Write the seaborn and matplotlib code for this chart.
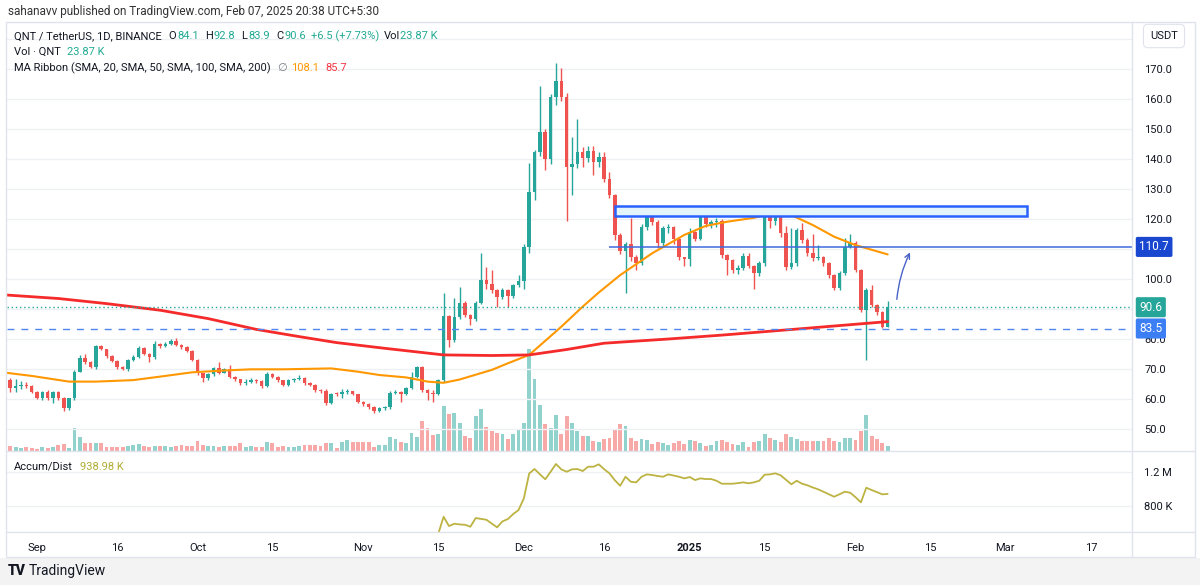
import matplotlib
matplotlib.use("Agg")
import matplotlib.pyplot as plt
import matplotlib.dates as mdates
from matplotlib.patches import Rectangle
from matplotlib.lines import Line2D
import pandas as pd
import seaborn as sns

# Candles QNT/USDT diarios (abertura = fechamento anterior)
FIRST_DAY = "2024-08-27"
FIRST_OPEN = 66.3

closes = [
    63.6, 64.2, 64.7, 64.3, 62.4, 60.4, 62.4, 60.2, 62.4, 60.2, 56.9, 60.2,
    69.1, 73.6, 72.4, 70.8, 77.7, 76.6, 74.3, 72.8, 70.6, 69.9, 73.0, 73.9,
    76.9, 75.0, 73.9, 78.3, 77.7, 78.2, 79.3, 78.0, 77.2, 76.1, 73.0, 68.6,
    66.9, 68.3, 70.2, 68.8, 69.9, 67.4, 66.6, 65.2, 65.8, 66.2, 65.9, 64.3,
    68.3, 67.4, 66.3, 64.7, 66.3, 66.6, 67.1, 65.2, 64.7, 63.0, 62.6, 58.8,
    61.7, 61.6, 62.4, 62.6, 61.6, 59.1, 58.3, 57.4, 56.1, 56.9, 57.2, 62.1,
    62.4, 61.8, 63.6, 67.4, 70.6, 63.0, 62.1, 61.8, 66.3, 87.7, 79.7, 87.4,
    91.9, 88.0, 86.6, 92.1, 99.7, 98.3, 96.3, 93.9, 96.3, 94.3, 97.9, 99.4,
    110.8, 129.1, 142.4, 149.1, 139.9, 160.6, 166.1, 160.8, 137.4, 138.3, 142.4, 140.2,
    142.7, 139.1, 140.8, 133.5, 128.0, 114.7, 109.4, 111.7, 107.4, 105.2, 117.2, 121.3,
    119.1, 111.9, 116.9, 117.2, 113.2, 107.4, 106.7, 115.8, 113.5, 121.0, 118.5, 118.9,
    119.2, 108.0, 106.3, 103.0, 103.8, 107.8, 104.4, 101.9, 105.2, 121.1, 119.3, 121.6,
    115.2, 104.1, 105.2, 116.3, 113.0, 108.6, 106.9, 107.4, 105.2, 101.3, 97.1, 101.9,
    110.8, 111.9, 103.0, 89.7, 96.3, 91.3, 88.9, 84.1, 90.6,
]

highs = [
    66.9, 66.6, 66.0, 65.6, 64.6, 62.6, 62.8, 63.0, 62.8, 62.6, 60.6, 60.4,
    69.6, 74.6, 75.0, 72.8, 78.0, 78.0, 76.8, 74.6, 73.0, 71.0, 73.4, 74.8,
    77.6, 77.4, 75.2, 79.4, 78.8, 79.0, 80.0, 80.2, 78.4, 77.6, 76.4, 73.4,
    68.8, 68.8, 70.6, 72.4, 70.4, 71.3, 67.6, 66.8, 66.6, 67.0, 66.8, 66.2,
    69.0, 68.8, 67.6, 66.4, 66.6, 67.0, 68.0, 67.4, 65.6, 65.0, 63.4, 63.2,
    62.0, 62.4, 63.2, 63.2, 62.8, 61.8, 59.4, 58.6, 57.6, 57.4, 57.8, 62.6,
    63.0, 62.8, 64.0, 69.1, 71.0, 71.0, 63.4, 63.0, 66.8, 95.2, 87.9, 93.6,
    97.4, 92.6, 88.2, 92.6, 108.8, 104.1, 103.0, 96.6, 97.0, 96.6, 98.4, 101.3,
    111.6, 138.8, 143.0, 164.3, 150.0, 161.6, 171.9, 170.2, 162.0, 147.4, 153.2, 144.0,
    144.5, 144.3, 142.5, 142.4, 135.8, 128.5, 115.2, 112.5, 120.2, 108.0, 118.5, 123.0,
    124.1, 119.6, 117.6, 118.2, 117.6, 114.0, 107.5, 117.0, 116.0, 122.8, 121.5, 119.8,
    120.5, 120.0, 108.4, 106.6, 104.6, 108.6, 108.6, 104.8, 106.0, 122.0, 124.1, 124.1,
    122.0, 117.8, 117.1, 117.0, 118.6, 113.6, 114.9, 111.3, 107.8, 105.6, 101.8, 102.6,
    113.8, 114.9, 112.6, 103.4, 97.0, 98.0, 91.6, 89.4, 92.8,
]

lows = [
    62.4, 62.4, 63.5, 63.6, 62.0, 60.0, 59.8, 59.6, 58.6, 59.8, 56.0, 56.4,
    59.8, 69.0, 71.8, 70.2, 70.0, 76.2, 73.8, 72.2, 70.0, 69.6, 69.4, 72.8,
    73.6, 74.6, 72.4, 73.4, 77.0, 77.4, 78.0, 77.6, 76.8, 75.6, 72.6, 68.0,
    65.8, 66.4, 67.8, 68.4, 68.6, 67.0, 66.0, 64.6, 64.8, 65.4, 65.4, 63.8,
    64.0, 67.0, 65.8, 64.2, 64.4, 65.8, 66.2, 64.8, 64.2, 62.2, 62.0, 58.0,
    58.4, 61.0, 60.4, 61.8, 61.2, 58.6, 57.6, 56.8, 55.4, 55.8, 56.4, 56.8,
    61.6, 59.1, 61.4, 63.2, 67.0, 62.4, 59.8, 59.1, 61.2, 65.8, 77.4, 79.0,
    86.8, 87.2, 84.6, 86.0, 91.6, 96.6, 95.2, 90.8, 93.2, 90.8, 93.8, 97.4,
    96.6, 108.6, 126.3, 141.0, 136.3, 138.3, 158.0, 159.2, 119.4, 128.0, 137.0, 137.4,
    139.0, 134.7, 137.5, 132.5, 127.0, 113.0, 108.5, 95.2, 106.0, 103.0, 104.6, 116.5,
    118.0, 110.5, 111.0, 115.5, 111.8, 106.5, 104.2, 104.5, 112.6, 113.0, 117.4, 117.0,
    117.2, 107.0, 101.3, 102.0, 101.6, 103.0, 103.6, 96.7, 101.0, 104.5, 117.0, 118.0,
    114.0, 103.0, 103.5, 104.2, 112.0, 107.6, 106.0, 106.5, 104.4, 100.5, 96.3, 96.5,
    101.4, 110.5, 102.5, 89.1, 73.0, 90.6, 88.0, 83.8, 83.9,
]

# Volume em milhares de QNT
volumes_k = [
    22, 18, 14, 18, 14, 9, 18, 14, 18, 27, 32, 14,
    104, 63, 36, 36, 36, 36, 18, 18, 18, 18, 22, 27,
    32, 22, 18, 22, 22, 22, 18, 22, 27, 22, 22, 45,
    27, 22, 22, 18, 22, 22, 22, 36, 18, 22, 18, 18,
    40, 36, 18, 22, 18, 18, 22, 27, 27, 27, 22, 36,
    36, 14, 40, 50, 40, 40, 40, 40, 18, 27, 27, 63,
    54, 40, 36, 81, 63, 135, 104, 72, 77, 203, 167, 171,
    126, 68, 58, 158, 189, 108, 90, 81, 77, 54, 77, 95,
    126, 459, 324, 207, 122, 104, 162, 77, 158, 126, 90, 68,
    68, 45, 40, 54, 58, 95, 122, 113, 58, 45, 54, 50,
    32, 40, 36, 27, 36, 45, 32, 50, 45, 36, 22, 27,
    45, 50, 40, 32, 27, 40, 18, 40, 45, 77, 58, 50,
    40, 77, 63, 54, 45, 45, 45, 45, 45, 58, 45, 40,
    58, 58, 50, 90, 162, 68, 54, 36, 24,
]

# Accumulation/Distribution (milhares), a partir de 15/11
AD_FIRST_DAY = "2024-11-15"
ad_values_k = [
    470, 670, 561, 588, 580, 576, 553, 655, 645, 635, 590, 546,
    616, 643, 702, 749, 887, 1180, 1232, 1170, 1111, 1200, 1291, 1228,
    1200, 1228, 1232, 1208, 1259, 1259, 1287, 1230, 1181, 1100, 1035, 1141,
    1082, 1075, 1141, 1169, 1161, 1150, 1141, 1169, 1155, 1141, 1122, 1138,
    1102, 1122, 1114, 1114, 1094, 1059, 1059, 1059, 1066, 1075, 1064, 1075,
    1094, 1165, 1169, 1181, 1158, 1105, 1052, 1094, 1059, 1040, 1015, 993,
    965, 935, 906, 935, 965, 953, 900, 840, 1012, 985, 960, 934, 939,
]

# Medias moveis
ma50_dates = [
    "2024-08-26", "2024-08-31", "2024-09-07", "2024-09-12", "2024-09-19", "2024-09-25",
    "2024-09-30", "2024-10-06", "2024-10-11", "2024-10-17", "2024-10-26", "2024-10-31",
    "2024-11-04", "2024-11-09", "2024-11-13", "2024-11-16", "2024-11-19", "2024-11-25",
    "2024-11-28", "2024-12-02", "2024-12-08", "2024-12-12", "2024-12-15", "2024-12-19",
    "2024-12-25", "2024-12-31", "2025-01-04", "2025-01-08", "2025-01-13", "2025-01-17",
    "2025-01-20", "2025-01-24", "2025-01-28", "2025-02-01", "2025-02-07",
]
ma50_values = [
    68.8, 67.7, 65.8, 65.8, 66.3, 67.7, 68.9, 69.5, 69.9, 69.9, 70.2, 69.1,
    68.0, 67.2, 65.8, 65.4, 66.5, 69.7, 71.9, 74.7, 84.1, 90.8, 95.5, 101.3,
    108.6, 114.7, 117.7, 119.1, 120.4, 122.2, 121.3, 118.0, 114.1, 111.3, 108.2,
]
ma200_dates = [
    "2024-08-26", "2024-09-05", "2024-09-14", "2024-09-24", "2024-10-03", "2024-10-12",
    "2024-10-20", "2024-10-27", "2024-11-05", "2024-11-16", "2024-11-25", "2024-12-02",
    "2024-12-09", "2024-12-16", "2024-12-28", "2025-01-07", "2025-01-23", "2025-02-07",
]
ma200_values = [
    94.7, 93.5, 91.8, 89.6, 86.8, 83.2, 80.8, 78.8, 76.9, 74.7, 74.5, 74.7,
    76.5, 78.6, 80.0, 81.3, 83.6, 85.8,
]

# Desenhos do autor
ZONE_LOW, ZONE_HIGH = 121.1, 124.4
ZONE_START, ZONE_END = "2024-12-18", "2025-03-05"
RESISTANCE = 110.7
RESISTANCE_START = "2024-12-17"
SUPPORT = 83.5
LAST_PRICE = 90.6

# 110.0 e 90.0 ficam escondidos atras das etiquetas de preco, como no original
price_ticks = [50, 60, 70, 80, 90, 100, 110, 120, 130, 140, 150, 160, 170, 180]
price_tick_labels = ["50.0", "60.0", "70.0", "80.0", "", "100.0", "", "120.0",
                     "130.0", "140.0", "150.0", "160.0", "170.0", ""]
ad_ticks = [800, 1200]
ad_tick_labels = ["800 K", "1.2 M"]
date_ticks = ["2024-09-01", "2024-09-16", "2024-10-01", "2024-10-15", "2024-11-01",
              "2024-11-15", "2024-12-01", "2024-12-16", "2025-01-01", "2025-01-15",
              "2025-02-01", "2025-02-15", "2025-03-01", "2025-03-17"]
date_tick_labels = ["Sep", "16", "Oct", "15", "Nov", "15", "Dec", "16", "2025", "15",
                    "Feb", "15", "Mar", "17"]

FIG_W, FIG_H = 1200, 585
UP = "#26a69a"
DOWN = "#ef5350"
UP_VOL = "#92d2cc"
DOWN_VOL = "#f7a9a7"
TEXT = "#131722"
VALUE = "#22ab94"
GRID = "#eef0f3"
FRAME = "#e0e3eb"


def box(left, top, right, bottom):
    # Converte pixels da imagem em coordenadas da figura
    return [left / FIG_W, 1 - bottom / FIG_H, (right - left) / FIG_W, (bottom - top) / FIG_H]


def texto_encadeado(fig, x_px, y_px, pecas, size=8):
    renderer = fig.canvas.get_renderer()
    x = x_px
    for texto, cor, espaco in pecas:
        t = fig.text(x / FIG_W, 1 - y_px / FIG_H, texto, color=cor, fontsize=size,
                     ha="left", va="center")
        x += t.get_window_extent(renderer).width + espaco


def etiqueta_preco(ax, valor, texto, cor):
    ax.text(1.0065, valor, texto, transform=ax.get_yaxis_transform(), ha="left",
            va="center", fontsize=8.5, color="white", zorder=10, clip_on=False,
            bbox=dict(boxstyle="round,pad=0.3,rounding_size=0.15", fc=cor, ec="none"))


sns.set_theme(style="white")
plt.rcParams["font.family"] = ["Roboto", "DejaVu Sans"]

dates = pd.date_range(FIRST_DAY, periods=len(closes), freq="D")
opens = [FIRST_OPEN] + closes[:-1]
subiu = [c >= o for o, c in zip(opens, closes)]
cores = [UP if s else DOWN for s in subiu]
cores_vol = [UP_VOL if s else DOWN_VOL for s in subiu]
corpo_base = [min(o, c) for o, c in zip(opens, closes)]
corpo_alt = [max(abs(c - o), 0.25) for o, c in zip(opens, closes)]

fig = plt.figure(figsize=(FIG_W / 100, FIG_H / 100), dpi=100)
fig.patch.set_facecolor("white")

ax_vol = fig.add_axes(box(7, 22, 1132, 451))
ax = fig.add_axes(box(7, 22, 1132, 451), sharex=ax_vol)
ax_ad = fig.add_axes(box(7, 451, 1132, 532), sharex=ax_vol)
ax.patch.set_visible(False)

# Volume no fundo
ax_vol.bar(dates, volumes_k, width=0.72, color=cores_vol, linewidth=0)
ax_vol.set_ylim(0, 429 * 4.5)
ax_vol.set_yticks([])
ax_vol.tick_params(axis="x", length=0, labelbottom=False)

# Candles
ax.vlines(dates, lows, highs, colors=cores, linewidth=1, zorder=2)
ax.bar(dates, corpo_alt, bottom=corpo_base, width=0.66, color=cores, linewidth=0, zorder=3)

# Medias moveis
sns.lineplot(x=pd.to_datetime(ma50_dates), y=ma50_values, ax=ax, color="#ff9800",
             linewidth=1.5, sort=False, zorder=4)
sns.lineplot(x=pd.to_datetime(ma200_dates), y=ma200_values, ax=ax, color="#f52a2a",
             linewidth=2, sort=False, zorder=4)

# Zona de resistencia e linhas horizontais
z0 = mdates.date2num(pd.Timestamp(ZONE_START))
z1 = mdates.date2num(pd.Timestamp(ZONE_END))
ax.add_patch(Rectangle((z0, ZONE_LOW), z1 - z0, ZONE_HIGH - ZONE_LOW, facecolor="#e3f4fb",
                       edgecolor="#2962ff", linewidth=1.8, zorder=5))
ax.hlines(RESISTANCE, mdates.date2num(pd.Timestamp(RESISTANCE_START)),
          mdates.date2num(pd.Timestamp("2025-06-01")), color="#3d6ae0", linewidth=1.1, zorder=5)
ax.axhline(LAST_PRICE, color=UP, linewidth=1, linestyle=(0, (1, 2)), zorder=5)
ax.axhline(SUPPORT, color="#5086f0", linewidth=1, linestyle=(0, (5, 5)), zorder=5)

ax.annotate("", xy=(mdates.date2num(pd.Timestamp("2025-02-11 10:00")), 109.7),
            xytext=(mdates.date2num(pd.Timestamp("2025-02-08 16:00")), 92.3),
            arrowprops=dict(arrowstyle="->", color="#4a62c8", linewidth=1,
                            connectionstyle="arc3,rad=-0.1", mutation_scale=9), zorder=6)

ax.set_ylim(42.67, 185.67)
ax.yaxis.tick_right()
ax.set_yticks(price_ticks)
ax.set_yticklabels(price_tick_labels)
ax.tick_params(axis="y", length=0, pad=9, labelsize=8, labelcolor=TEXT)
ax.tick_params(axis="x", length=0, labelbottom=False)
ax.grid(axis="y", color=GRID, linewidth=1)
ax.grid(axis="x", visible=False)
ax.set_xlabel("")
ax.set_ylabel("")

etiqueta_preco(ax, RESISTANCE, "110.7", "#1a47d0")
etiqueta_preco(ax, LAST_PRICE, "90.6", "#26a69a")
etiqueta_preco(ax, SUPPORT, "83.5", "#3c7ff5")

# Painel Accum/Dist
ad_dates = pd.date_range(AD_FIRST_DAY, periods=len(ad_values_k), freq="D")
sns.lineplot(x=ad_dates, y=ad_values_k, ax=ax_ad, color="#bdb342", linewidth=1.3)
ax_ad.set_ylim(491, 1444)
ax_ad.yaxis.tick_right()
ax_ad.set_yticks(ad_ticks)
ax_ad.set_yticklabels(ad_tick_labels)
ax_ad.tick_params(axis="y", length=0, pad=9, labelsize=8, labelcolor=TEXT)
ax_ad.grid(axis="y", color=GRID, linewidth=1)
ax_ad.grid(axis="x", visible=False)
ax_ad.set_xticks(mdates.date2num(pd.to_datetime(date_ticks)))
ax_ad.set_xticklabels(date_tick_labels)
ax_ad.tick_params(axis="x", length=0, pad=8, labelsize=8, labelcolor=TEXT)
for rotulo in ax_ad.get_xticklabels():
    if rotulo.get_text() == "2025":
        rotulo.set_fontweight("bold")
ax_ad.set_xlabel("")
ax_ad.set_ylabel("")

inicio = pd.Timestamp("2024-09-01")
ax.set_xlim(inicio - pd.Timedelta(days=5.61), inicio + pd.Timedelta(days=204.67))

for a in (ax, ax_vol, ax_ad):
    for s in a.spines.values():
        s.set_visible(False)

# Moldura, separadores e faixa inferior
fig.patches.append(Rectangle((0, 0), 1, (FIG_H - 558) / FIG_H, transform=fig.transFigure,
                             facecolor="#f3f3f3", edgecolor="none", zorder=0))
fig.patches.append(Rectangle((6 / FIG_W, 1 - 557 / FIG_H), 1189 / FIG_W, 535 / FIG_H,
                             transform=fig.transFigure, facecolor="none", edgecolor=FRAME,
                             linewidth=1, zorder=1))
for y in (451, 532):
    fig.lines.append(Line2D([6 / FIG_W, 1195 / FIG_W], [1 - y / FIG_H] * 2,
                            transform=fig.transFigure, color=FRAME, linewidth=1))
fig.lines.append(Line2D([1132 / FIG_W] * 2, [1 - 22 / FIG_H, 1 - 557 / FIG_H],
                        transform=fig.transFigure, color=FRAME, linewidth=1))

fig.text(1164 / FIG_W, 1 - 36 / FIG_H, "USDT", ha="center", va="center", fontsize=8,
         color=TEXT, bbox=dict(boxstyle="round,pad=0.6,rounding_size=0.4", fc="white",
                               ec=FRAME, lw=0.8))

fig.text(8 / FIG_W, 1 - 12 / FIG_H,
         "sahanavv published on TradingView.com, Feb 07, 2025 20:38 UTC+5:30",
         ha="left", va="center", fontsize=8.5, color="#333333")

texto_encadeado(fig, 14, 36, [
    ("QNT / TetherUS, 1D, BINANCE", TEXT, 7), ("O", TEXT, 1), ("84.1", VALUE, 6),
    ("H", TEXT, 1), ("92.8", VALUE, 6), ("L", TEXT, 1), ("83.9", VALUE, 6),
    ("C", TEXT, 1), ("90.6", VALUE, 5), ("+6.5 (+7.73%)", VALUE, 5),
    ("Vol", TEXT, 0), ("23.87 K", VALUE, 0),
])
texto_encadeado(fig, 14, 52, [("Vol · QNT", TEXT, 6), ("23.87 K", VALUE, 0)])
texto_encadeado(fig, 14, 68, [
    ("MA Ribbon (SMA, 20, SMA, 50, SMA, 100, SMA, 200)", TEXT, 6), ("∅", "#787b86", 5),
    ("108.1", "#ff9800", 6), ("85.7", "#f23645", 0),
])
texto_encadeado(fig, 14, 467, [("Accum/Dist", TEXT, 7), ("938.98 K", "#b0ac36", 0)])

fig.text(8 / FIG_W, 1 - 571 / FIG_H, "TV", ha="left", va="center", fontsize=10,
         fontweight="heavy", color="#131722")
texto_encadeado(fig, 29, 571, [("TradingView", TEXT, 0)], size=10)

fig.savefig("out.png", dpi=100, facecolor="white")
